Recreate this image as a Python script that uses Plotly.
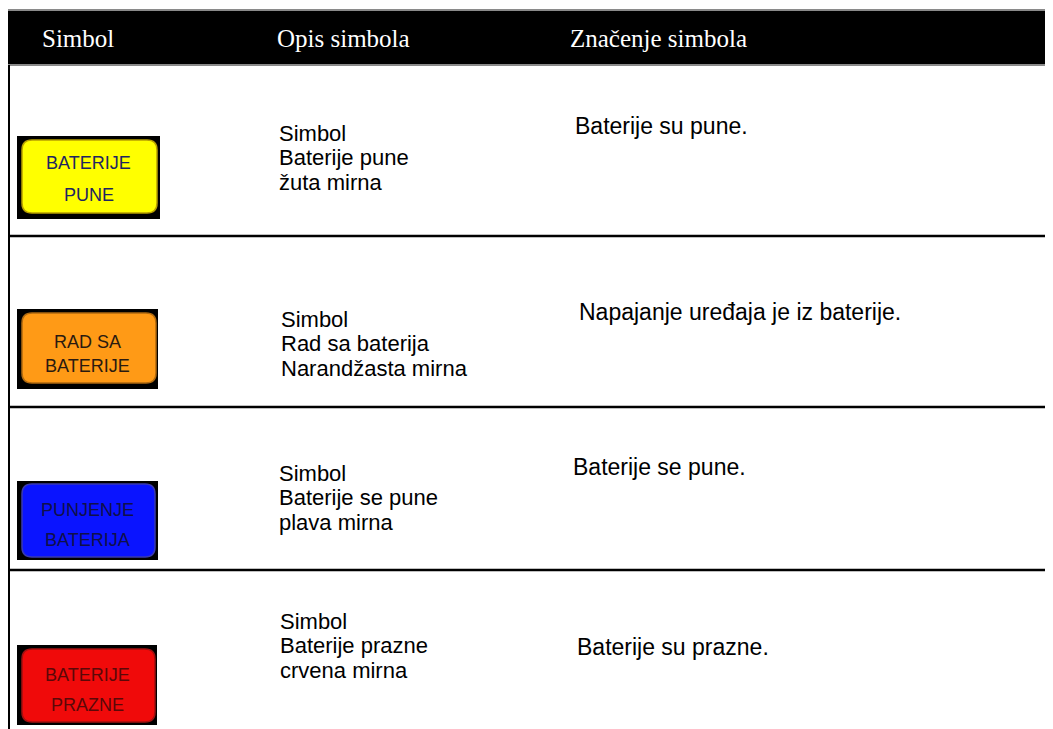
import plotly.graph_objects as go

# ---------------- data ----------------
header_labels = ["Simbol", "Opis simbola", "Značenje simbola"]
symbol_labels = [
    ["BATERIJE", "PUNE"],
    ["RAD SA", "BATERIJE"],
    ["PUNJENJE", "BATERIJA"],
    ["BATERIJE", "PRAZNE"],
]
descriptions = [
    ["Simbol", "Baterije pune", "žuta mirna"],
    ["Simbol", "Rad sa baterija", "Narandžasta mirna"],
    ["Simbol", "Baterije se pune", "plava mirna"],
    ["Simbol", "Baterije prazne", "crvena mirna"],
]
meanings = [
    "Baterije su pune.",
    "Napajanje uređaja je iz baterije.",
    "Baterije se pune.",
    "Baterije su prazne.",
]

# ---------------- styles ----------------
button_fill = ["#FFFF00", "#FF9A16", "#0A14FF", "#F00A0A"]
button_edge = ["#B8A000", "#B06A10", "#3A3AB0", "#A01010"]
button_text = ["#1E2560", "#2A1A10", "#10104A", "#5A0808"]

# ---------------- geometry (pixels, page coordinates) ----------------
W, H = 1053, 729
PAD = 8  # default page body margin
header_y = (10, 65)
header_x = [40, 275, 568]
row_lines = [236, 407, 570]
outer_boxes = [(17, 136, 160, 219), (17, 309, 158, 389), (17, 481, 158, 560), (17, 645, 157, 725)]
inner_boxes = [(22, 140, 157, 213), (22, 313, 156, 383), (22, 484, 155, 557), (22, 649, 155, 722)]
button_text_y = [(163, 195), (342, 366), (510, 540), (675, 705)]
desc_x = [277, 279, 277, 278]
desc_mid = [157.5, 343.5, 497.5, 645.5]
desc_step = 24.5
meaning_x = [573, 577, 571, 575]
meaning_y = [126, 312, 467, 647]


def rounded_path(x0, y0, x1, y1, r):
    return (f"M {x0 + r},{y0} L {x1 - r},{y0} Q {x1},{y0} {x1},{y0 + r} "
            f"L {x1},{y1 - r} Q {x1},{y1} {x1 - r},{y1} L {x0 + r},{y1} "
            f"Q {x0},{y1} {x0},{y1 - r} L {x0},{y0 + r} Q {x0},{y0} {x0 + r},{y0} Z")


fig = go.Figure()
fig.add_trace(go.Scatter(x=[PAD, W], y=[PAD, H], mode="markers",
                         marker=dict(opacity=0), hoverinfo="skip", showlegend=False))

shapes = []
shapes.append(dict(type="rect", x0=6, y0=header_y[0], x1=W + 2, y1=header_y[1],
                   fillcolor="black", line=dict(color="#8a8a8a", width=2), layer="below"))
shapes.append(dict(type="line", x0=9, y0=header_y[1], x1=9, y1=H + 2,
                   line=dict(color="black", width=2)))
for y in row_lines:
    shapes.append(dict(type="line", x0=8, y0=y, x1=W + 2, y1=y,
                       line=dict(color="black", width=2.5)))
for i in range(4):
    ox0, oy0, ox1, oy1 = outer_boxes[i]
    shapes.append(dict(type="rect", x0=ox0, y0=oy0, x1=ox1, y1=oy1,
                       fillcolor="black", line=dict(width=0)))
    ix0, iy0, ix1, iy1 = inner_boxes[i]
    shapes.append(dict(type="path", path=rounded_path(ix0, iy0, ix1, iy1, 10),
                       fillcolor=button_fill[i], line=dict(color=button_edge[i], width=1.5)))

annotations = []
for lab, x in zip(header_labels, header_x):
    annotations.append(dict(x=x, y=38, text=lab, showarrow=False, xanchor="left", yanchor="middle",
                            font=dict(family="Liberation Serif", size=25, color="white")))
for i in range(4):
    ox0, oy0, ox1, oy1 = outer_boxes[i]
    cx = (ox0 + ox1) / 2
    for txt, ty in zip(symbol_labels[i], button_text_y[i]):
        annotations.append(dict(x=cx, y=ty, text=txt, showarrow=False, xanchor="center", yanchor="middle",
                                font=dict(family="Liberation Sans", size=18, color=button_text[i])))
    for k, line in enumerate(descriptions[i]):
        annotations.append(dict(x=desc_x[i], y=desc_mid[i] + (k - 1) * desc_step, text=line,
                                showarrow=False, xanchor="left", yanchor="middle",
                                font=dict(family="Liberation Sans", size=22, color="black")))
    annotations.append(dict(x=meaning_x[i], y=meaning_y[i], text=meanings[i], showarrow=False,
                            xanchor="left", yanchor="middle",
                            font=dict(family="Liberation Sans", size=23, color="black")))

fig.update_layout(
    width=W - PAD, height=H - PAD, margin=dict(l=0, r=0, t=0, b=0),
    paper_bgcolor="white", plot_bgcolor="white",
    xaxis=dict(range=[PAD, W], visible=False, fixedrange=True),
    yaxis=dict(range=[H, PAD], visible=False, fixedrange=True),
    shapes=shapes, annotations=annotations, showlegend=False,
)
fig.write_html("out.html", config={"displayModeBar": False})
